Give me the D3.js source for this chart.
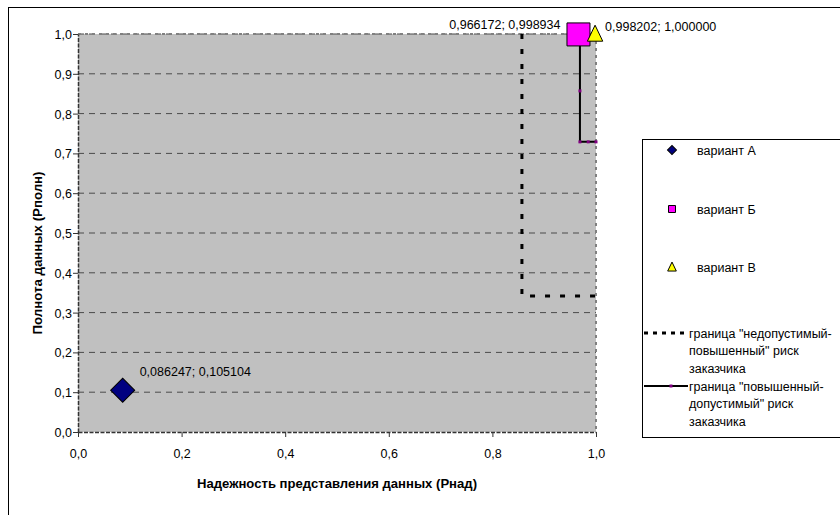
<!DOCTYPE html>
<html>
<head>
<meta charset="utf-8">
<script src="https://cdn.jsdelivr.net/npm/d3@7"></script>
<style>
  body { margin: 0; background: #fff; }
  svg { display: block; font-family: "Liberation Sans", Arial, sans-serif; }
</style>
</head>
<body>
<svg id="chart" width="840" height="515"></svg>
<script>
// variants (scatter points)
const variantNames = ["вариант А", "вариант Б", "вариант В"];
const variantX = [0.086247, 0.966172, 0.998202];
const variantY = [0.105104, 0.998934, 1.000000];

// boundary "недопустимый-повышенный" risk
const bound1X = [0.857, 0.857, 1.0];
const bound1Y = [1.0, 0.342, 0.342];

// boundary "повышенный-допустимый" risk
const bound2X = [0.969, 0.969, 0.969, 0.985, 1.0];
const bound2Y = [1.0, 0.857, 0.729, 0.729, 0.729];

const xTicks = [0, 0.2, 0.4, 0.6, 0.8, 1.0];
const yTicks = [0, 0.1, 0.2, 0.3, 0.4, 0.5, 0.6, 0.7, 0.8, 0.9, 1.0];

const legendLines = [
  ["граница \"недопустимый-", "повышенный\" риск", "заказчика"],
  ["граница \"повышенный-", "допустимый\" риск", "заказчика"]
];

const xTitle = "Надежность представления данных (Рнад)";
const yTitle = "Полнота данных (Рполн)";

const ru = d3.formatLocale({ decimal: ",", thousands: " ", grouping: [3], currency: ["", ""] });
const f1 = ru.format(".1f");
const f6 = ru.format(".6f");

const svg = d3.select("#chart");
const pLeft = 78, pRight = 596, pTop = 34, pBottom = 432;
const fs = 12.5;

const x = d3.scaleLinear().domain([0, 1]).range([pLeft, pRight]);
const y = d3.scaleLinear().domain([0, 1]).range([pBottom, pTop]);

// chart frame (extends past the picture)
svg.append("rect")
  .attr("x", 8.5).attr("y", 7.5)
  .attr("width", 900).attr("height", 600)
  .attr("fill", "#fff").attr("stroke", "#000");

// plot area
svg.append("rect")
  .attr("x", pLeft).attr("y", pTop)
  .attr("width", pRight - pLeft).attr("height", pBottom - pTop)
  .attr("fill", "#c0c0c0");

// grid
svg.append("g")
  .selectAll("line")
  .data(yTicks.slice(1))
  .enter().append("line")
  .attr("x1", pLeft).attr("x2", pRight)
  .attr("y1", d => y(d)).attr("y2", d => y(d))
  .attr("stroke", "#4a4a4a")
  .attr("stroke-dasharray", "6,5");

// plot border top / right
svg.append("path")
  .attr("d", `M${pLeft},${pTop}H${pRight}V${pBottom}`)
  .attr("fill", "none")
  .attr("stroke", "#808080")
  .attr("stroke-width", 2)
  .attr("stroke-dasharray", "3,4");

// axes
const xAxis = svg.append("g")
  .attr("transform", `translate(0,${pBottom})`)
  .call(d3.axisBottom(x).tickValues(xTicks).tickFormat(f1).tickSize(5).tickSizeOuter(0));

const yAxis = svg.append("g")
  .attr("transform", `translate(${pLeft},0)`)
  .call(d3.axisLeft(y).tickValues(yTicks).tickFormat(f1).tickSize(5).tickSizeOuter(0));

[xAxis, yAxis].forEach(a => {
  a.attr("font-size", fs).attr("font-family", "Liberation Sans, Arial, sans-serif");
  a.select(".domain").attr("stroke", "#333").attr("stroke-width", 1.5).attr("stroke-dasharray", "4,1.5");
  a.selectAll(".tick line").attr("stroke", "#333");
  a.selectAll(".tick text").attr("fill", "#000");
});
xAxis.selectAll(".tick text").attr("dy", 0).attr("y", 26);
yAxis.selectAll(".tick text").attr("x", -6).attr("dy", "0.36em");

// axis titles
svg.append("text")
  .attr("x", (pLeft + pRight) / 2).attr("y", 488)
  .attr("text-anchor", "middle")
  .attr("font-size", 12.5).attr("font-weight", "bold")
  .attr("textLength", 280).attr("lengthAdjust", "spacingAndGlyphs")
  .text(xTitle);

svg.append("text")
  .attr("transform", "translate(42,253) rotate(-90)")
  .attr("text-anchor", "middle")
  .attr("font-size", 12.5).attr("font-weight", "bold")
  .attr("textLength", 163).attr("lengthAdjust", "spacingAndGlyphs")
  .text(yTitle);

// boundary lines
const line = d3.line().x(d => x(d[0])).y(d => y(d[1]));
const b1 = d3.zip(bound1X, bound1Y);
const b2 = d3.zip(bound2X, bound2Y);

svg.append("path")
  .attr("d", line(b1))
  .attr("fill", "none")
  .attr("stroke", "#000")
  .attr("stroke-width", 3)
  .attr("stroke-dasharray", "5,10");

svg.append("path")
  .attr("d", line(b2))
  .attr("fill", "none")
  .attr("stroke", "#000")
  .attr("stroke-width", 2);

svg.append("g")
  .selectAll("rect")
  .data(b2)
  .enter().append("rect")
  .attr("x", d => x(d[0]) - 1.5).attr("y", d => y(d[1]) - 1.5)
  .attr("width", 3).attr("height", 3)
  .attr("fill", "#800080");

// markers
const fills = ["#000080", "#ff00ff", "#ffff00"];
function markerPath(i, s) {
  if (i === 0) return d3.symbol(d3.symbolSquare, s * s / 2)();
  if (i === 1) return d3.symbol(d3.symbolSquare, s * s)();
  const p = d3.path();
  p.moveTo(0, -s * 0.55); p.lineTo(s * 0.48, s * 0.45); p.lineTo(-s * 0.48, s * 0.45); p.closePath();
  return p.toString();
}

const pts = d3.range(variantNames.length).map(i => ({ i, x: variantX[i], y: variantY[i] }));
const sizes = [24, 23, 16];

svg.append("g")
  .selectAll("path")
  .data(pts)
  .enter().append("path")
  .attr("d", d => markerPath(d.i, sizes[d.i]))
  .attr("transform", d => `translate(${x(d.x)},${y(d.y)})` + (d.i === 0 ? " rotate(45)" : ""))
  .attr("fill", d => fills[d.i])
  .attr("stroke", "#000")
  .attr("stroke-width", 1);

// data labels
const labelPos = [
  { dx: 17, dy: -14, anchor: "start" },
  { dx: -18, dy: -5, anchor: "end" },
  { dx: 10, dy: -3, anchor: "start" }
];
svg.append("g")
  .selectAll("text")
  .data(pts)
  .enter().append("text")
  .attr("x", d => x(d.x) + labelPos[d.i].dx)
  .attr("y", d => y(d.y) + labelPos[d.i].dy)
  .attr("text-anchor", d => labelPos[d.i].anchor)
  .attr("font-size", fs)
  .text(d => f6(d.x) + "; " + f6(d.y));

// legend
const lg = svg.append("g");
lg.append("rect")
  .attr("x", 642.5).attr("y", 139.5)
  .attr("width", 260).attr("height", 298)
  .attr("fill", "#fff").attr("stroke", "#000");

const rowY = [150, 209, 267];
pts.forEach(d => {
  lg.append("path")
    .attr("d", markerPath(d.i, [9, 7, 9][d.i]))
    .attr("transform", `translate(672,${rowY[d.i]})` + (d.i === 0 ? " rotate(45)" : ""))
    .attr("fill", fills[d.i])
    .attr("stroke", "#000");
  lg.append("text")
    .attr("x", 697).attr("y", rowY[d.i] + 4.5)
    .attr("font-size", fs)
    .text(variantNames[d.i]);
});

const lineRowY = [333, 386];
lg.append("line")
  .attr("x1", 644).attr("x2", 686)
  .attr("y1", lineRowY[0]).attr("y2", lineRowY[0])
  .attr("stroke", "#000").attr("stroke-width", 3)
  .attr("stroke-dasharray", "4,5");
lg.append("line")
  .attr("x1", 644).attr("x2", 688)
  .attr("y1", lineRowY[1]).attr("y2", lineRowY[1])
  .attr("stroke", "#000").attr("stroke-width", 2);
lg.append("rect")
  .attr("x", 669.5).attr("y", lineRowY[1] - 1.5)
  .attr("width", 3).attr("height", 3)
  .attr("fill", "#800080");

legendLines.forEach((lines, k) => {
  lines.forEach((t, j) => {
    lg.append("text")
      .attr("x", 689).attr("y", lineRowY[k] + 4.5 + j * 17.5)
      .attr("font-size", fs)
      .text(t);
  });
});
</script>
</body>
</html>
